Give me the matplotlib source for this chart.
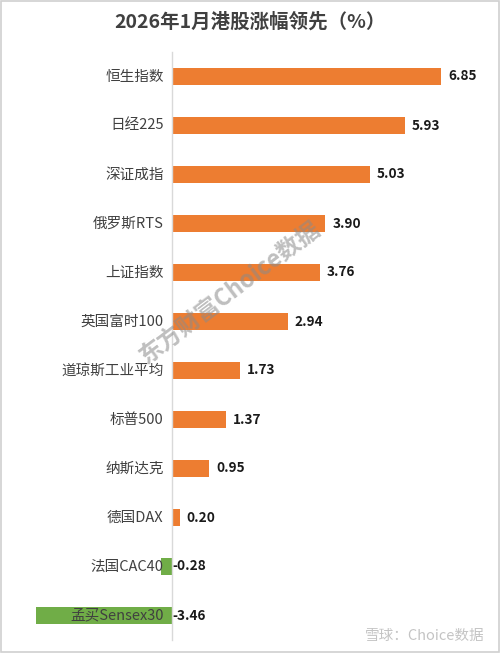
import matplotlib
matplotlib.use("Agg")
import matplotlib.pyplot as plt
from matplotlib.patches import Rectangle

plt.rcParams['font.family'] = ['Noto Sans CJK SC', 'DejaVu Sans']

categories = ["恒生指数", "日经225", "深证成指", "俄罗斯RTS", "上证指数", "英国富时100",
              "道琼斯工业平均", "标普500", "纳斯达克", "德国DAX", "法国CAC40", "孟买Sensex30"]
values = [6.85, 5.93, 5.03, 3.90, 3.76, 2.94, 1.73, 1.37, 0.95, 0.20, -0.28, -3.46]
title = "2026年1月港股涨幅领先（%）"

pos_color = "#ED7D31"
neg_color = "#70AD47"
text_color = "#404040"

fig = plt.figure(figsize=(5.0, 6.53), dpi=100)
fig.patches.append(Rectangle((0.002, 0.002), 0.996, 0.996, transform=fig.transFigure,
                             fill=False, edgecolor="#D0D0D0", linewidth=1.2))

W, H = 500, 653
ax_left, ax_right = 20, 480
ax_top, ax_bottom = 52, 640
ax = fig.add_axes([ax_left / W, 1 - ax_bottom / H, (ax_right - ax_left) / W, (ax_bottom - ax_top) / H])

ppu = 39.3
zero_px = 172
ax.set_xlim((ax_left - zero_px) / ppu, (ax_right - zero_px) / ppu)
n = len(categories)
ypos = list(range(n))
ax.set_ylim(n - 0.5, -0.5)

colors = [pos_color if v >= 0 else neg_color for v in values]
ax.barh(ypos, values, height=0.36, color=colors, zorder=2)

for spine in ["top", "right", "bottom"]:
    ax.spines[spine].set_visible(False)
ax.spines['left'].set_position(('data', 0))
ax.spines['left'].set_color("#D9D9D9")
ax.spines['left'].set_linewidth(1.0)
ax.spines['left'].set_zorder(3)
ax.set_xticks([])
ax.set_yticks(ypos)
ax.set_yticklabels([])
ax.tick_params(axis='y', length=0)

for y, (c, v) in enumerate(zip(categories, values)):
    ax.annotate(c, xy=(0, y), xytext=(-6, 0), textcoords="offset points",
                va="center", ha="right", fontsize=10.5, color=text_color, zorder=5)
    x0 = v if v >= 0 else 0
    off = 5 if v >= 0 else 0.5
    ax.annotate(f"{v:.2f}", xy=(x0, y), xytext=(off, 0), textcoords="offset points",
                va="center", ha="left", fontsize=9.8, fontweight="bold", color="#1a1a1a",
                zorder=5)

fig.text(0.5, 1 - 22 / H, title, ha="center", va="center", fontsize=14,
         fontweight="bold", color=text_color)

# watermarks
fig.text(230 / W, 1 - 292 / H, "东方财富Choice数据", ha="center", va="center", rotation=37,
         fontsize=17, fontweight="bold", style="italic", color="#8a8a8a", alpha=0.55, zorder=6)
fig.text(485 / W, 1 - 636 / H, "雪球：Choice数据", ha="right", va="center",
         fontsize=10.5, color="#c4c4c4")

fig.savefig("out.png", dpi=100)
